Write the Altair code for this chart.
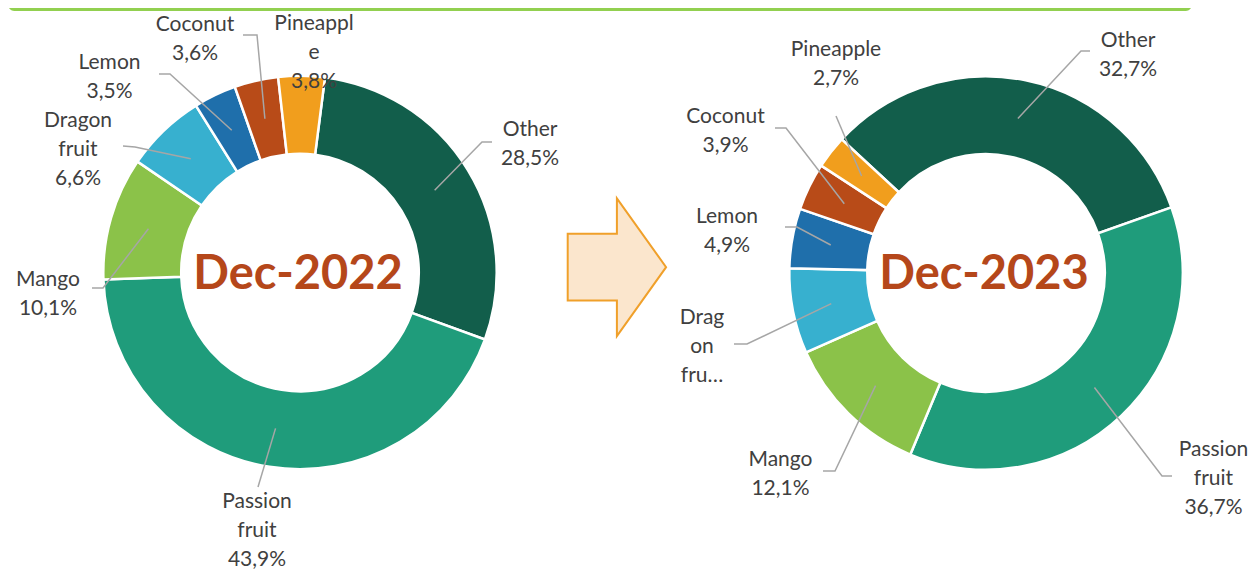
import math
import pandas as pd
import altair as alt

# ---------------- data ----------------
categories = ["Other", "Passion fruit", "Mango", "Dragon fruit", "Lemon", "Coconut", "Pineapple"]
share_2022 = [28.5, 43.9, 10.1, 6.6, 3.5, 3.6, 3.8]
share_2023 = [32.7, 36.7, 12.1, 7.0, 4.9, 3.9, 2.7]
label_names_2022 = ["Other", "Passion\nfruit", "Mango", "Dragon\nfruit", "Lemon", "Coconut", "Pineappl\ne"]
label_names_2023 = ["Other", "Passion\nfruit", "Mango", "Drag\non\nfru…", "Lemon", "Coconut", "Pineapple"]
show_pct_2022 = [True] * 7
show_pct_2023 = [True, True, True, False, True, True, True]
titles = ["Dec-2022", "Dec-2023"]

# ---------------- styles / layout ----------------
colors = ["#125e4b", "#1f9c7b", "#8bc249", "#37b0cf", "#1f6fab", "#b84b18", "#f19e1d"]
PAGE = 8
W, H = 1241, 563
centers = [(300.0, 272.5), (986.0, 273.0)]
start_deg = [7.3, -47.2]
R_OUT, R_IN = 195.5, 120.0
R_MID = (R_OUT + R_IN) / 2
# label anchor: centre x, centre y of first text line (page pixels)
label_pos = [
    [(530, 128), (257, 500), (48, 278), (78, 119), (109.5, 61), (195, 22.5), (314, 22)],
    [(1128, 38.5), (1213.5, 448), (780.5, 458), (702, 316), (727, 214.5), (725.5, 114.5), (836, 47.5)],
]
leader_pts = [
    [[(482, 142), (492, 142)], [(258, 487)], [(103, 288), (92, 288)], [(135, 147), (123, 146)],
     [(170, 74), (159, 74)], [(257, 35), (243, 35)], []],
    [[(1081, 51), (1090, 51)], [(1162, 476), (1172, 476)], [(835, 471), (823, 471)],
     [(747, 344), (734, 344)], [(797, 227), (785, 227)], [(786, 128), (775, 128)], [(836, 116)]],
]
TEXT_COLOR = "#404040"
FONT = "Lato"
TEXT_DY = 2

shares = [share_2022, share_2023]
names = [label_names_2022, label_names_2023]
show_pct = [show_pct_2022, show_pct_2023]

layers = []

# green top band
band = alt.Chart(pd.DataFrame({"k": [0]})).mark_rect(color="#92d050", cornerRadius=8).encode(
    x=alt.value(0), x2=alt.value(1192 - PAGE), y=alt.value(-10), y2=alt.value(11 - PAGE)
)
layers.append(band)

lead_rows = []
lab_rows = []
title_rows = []
for k in range(2):
    vals = shares[k]
    cx, cy = centers[k]
    off = math.radians(start_deg[k])
    df = pd.DataFrame({"cat": categories, "value": vals, "idx": list(range(len(vals)))})
    arc = alt.Chart(df).mark_arc(
        outerRadius=R_OUT + 1.2, innerRadius=R_IN - 1.2, stroke="white", strokeWidth=2.5
    ).encode(
        theta=alt.Theta("value:Q", stack=True, scale=alt.Scale(range=[off, off + 2 * math.pi])),
        color=alt.Color("cat:N", scale=alt.Scale(domain=categories, range=colors), legend=None),
        order=alt.Order("idx:Q"),
        x=alt.value(cx - PAGE),
        y=alt.value(cy - PAGE),
    )
    layers.append(arc)

    total = sum(vals)
    cum = 0.0
    for i, v in enumerate(vals):
        mid = off + 2 * math.pi * (cum + v / 2) / total
        cum += v
        sx = cx + R_MID * math.sin(mid)
        sy = cy - R_MID * math.cos(mid)
        pts = leader_pts[k][i]
        if pts:
            key = f"{k}-{i}"
            for s, (px_, py_) in enumerate([(sx, sy)] + pts):
                lead_rows.append({"key": key, "seq": s, "x": px_ - PAGE, "y": py_ - PAGE})
        txt = names[k][i]
        if show_pct[k][i]:
            txt += "\n" + f"{v:.1f}".replace(".", ",") + "%"
        lx, ly = label_pos[k][i]
        lab_rows.append({"x": lx - PAGE, "y": ly - PAGE + TEXT_DY, "text": txt})
    title_rows.append({"x": cx - PAGE - 2, "y": cy - PAGE + 16, "text": titles[k]})

leaders = alt.Chart(pd.DataFrame(lead_rows)).mark_line(color="#a6a6a6", strokeWidth=1.5).encode(
    x=alt.X("x:Q", scale=None, axis=None),
    y=alt.Y("y:Q", scale=None, axis=None),
    detail="key:N",
    order="seq:Q",
)
labels = alt.Chart(pd.DataFrame(lab_rows)).mark_text(
    font=FONT, fontSize=21, color=TEXT_COLOR, lineBreak="\n", lineHeight=29,
    align="center", baseline="middle",
).encode(
    x=alt.X("x:Q", scale=None, axis=None),
    y=alt.Y("y:Q", scale=None, axis=None),
    text="text:N",
)
center_titles = alt.Chart(pd.DataFrame(title_rows)).mark_text(
    font=FONT, fontSize=47, fontWeight="bold", color="#b5471a", align="center", baseline="alphabetic",
).encode(
    x=alt.X("x:Q", scale=None, axis=None),
    y=alt.Y("y:Q", scale=None, axis=None),
    text="text:N",
)

# arrow between the two donuts
arrow_path = "M -0.714 -0.484 L 0 -0.484 L 0 -1 L 0.714 0 L 0 1 L 0 0.484 L -0.714 0.484 Z"
arrow_half = 68.9
arrow = alt.Chart(pd.DataFrame({"x": [616.9 - PAGE], "y": [267.2 - PAGE]})).mark_point(
    shape=arrow_path, size=(2 * arrow_half) ** 2, filled=True, fill="#fbe6cd",
    stroke="#f0a02a", strokeWidth=2, opacity=1, fillOpacity=1, strokeOpacity=1,
).encode(
    x=alt.X("x:Q", scale=None, axis=None),
    y=alt.Y("y:Q", scale=None, axis=None),
)

layers += [leaders, labels, center_titles, arrow]

chart = alt.layer(*layers).resolve_scale(theta="independent").properties(
    width=W, height=H, padding=0, autosize=alt.AutoSizeParams(type="none")
).configure_view(strokeWidth=0)

chart.save("out.html", embed_options={"renderer": "svg", "actions": False})
